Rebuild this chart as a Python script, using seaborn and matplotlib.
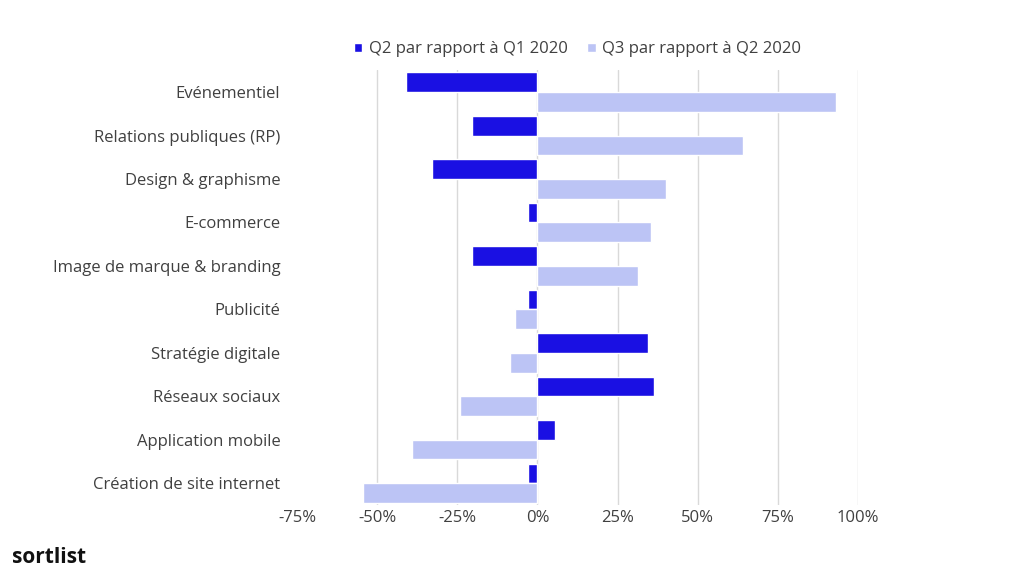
import matplotlib
matplotlib.use("Agg")
import matplotlib.pyplot as plt
import seaborn as sns
import pandas as pd
from matplotlib.ticker import FuncFormatter

categories = ["Evénementiel", "Relations publiques (RP)", "Design & graphisme", "E-commerce",
              "Image de marque & branding", "Publicité", "Stratégie digitale", "Réseaux sociaux",
              "Application mobile", "Création de site internet"]
q2_vs_q1 = [-41, -20.5, -33, -3, -20.5, -3, 34.5, 36.5, 5.5, -3]
q3_vs_q2 = [93, 64, 40, 35.5, 31.5, -7, -8.5, -24, -39, -54.5]
series = ["Q2 par rapport à Q1 2020", "Q3 par rapport à Q2 2020"]
ticks = [-75, -50, -25, 0, 25, 50, 75, 100]

df = pd.DataFrame({
    "cat": categories * 2,
    "val": q2_vs_q1 + q3_vs_q2,
    "serie": [series[0]] * len(categories) + [series[1]] * len(categories),
})

sns.set_theme(style="white")
plt.rcParams["font.family"] = ["Open Sans", "DejaVu Sans"]
fig = plt.figure(figsize=(10.24, 5.76), dpi=100)
ax = fig.add_axes([0.29, 0.123, 0.548, 0.755])
sns.barplot(data=df, y="cat", x="val", hue="serie", orient="h",
            palette=["#1a10e3", "#bcc4f5"], width=0.9, saturation=1, ax=ax)
ax.set_xlim(-75, 100)
ax.set_xticks(ticks)
ax.xaxis.set_major_formatter(FuncFormatter(lambda v, p: f"{int(v)}%"))
ax.grid(axis="x", color="#d9d9d9", lw=1)
ax.xaxis.get_gridlines()[0].set_visible(False)
ax.set_axisbelow(True)
for s in ax.spines.values():
    s.set_visible(False)
ax.set_xlabel(""); ax.set_ylabel("")
ax.tick_params(axis="both", labelsize=12, colors="#404040", length=0)
ax.tick_params(axis="y", pad=12)
ax.legend(loc="lower center", bbox_to_anchor=(0.5, 0.995), ncol=2, frameon=False,
          fontsize=12, handlelength=0.5, handleheight=0.5, columnspacing=1.2,
          handletextpad=0.4, labelcolor="#404040")
fig.text(0.012, 0.022, "sortlist", fontsize=15, fontweight="bold", color="#111111")
fig.savefig("out.png", dpi=100)
